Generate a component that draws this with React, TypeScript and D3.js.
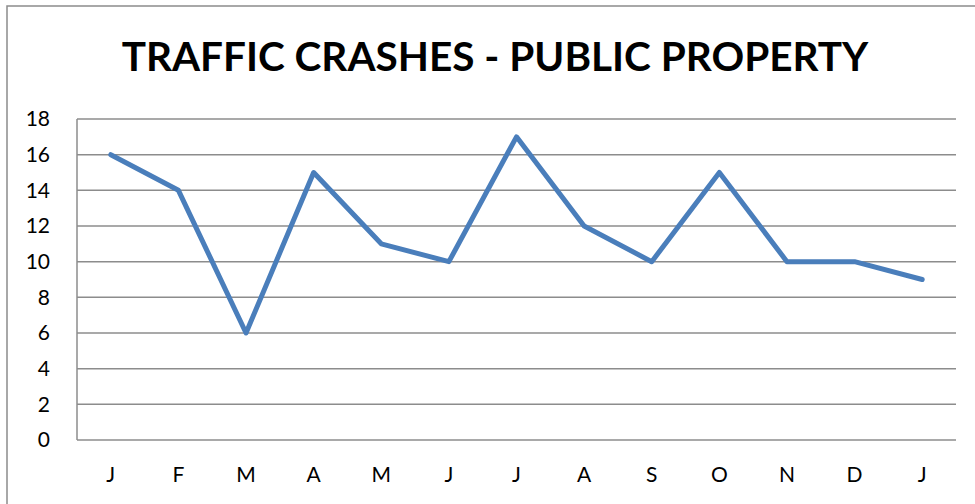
import React, { useEffect, useRef } from 'react';
import * as d3 from 'd3';

const months = ['J', 'F', 'M', 'A', 'M', 'J', 'J', 'A', 'S', 'O', 'N', 'D', 'J'];
const crashes = [16, 14, 6, 15, 11, 10, 17, 12, 10, 15, 10, 10, 9];
const yTicks = [0, 2, 4, 6, 8, 10, 12, 14, 16, 18];
const title = 'TRAFFIC CRASHES - PUBLIC PROPERTY';

function Chart() {
  const canvas = useRef<SVGSVGElement>(null);

  useEffect(() => {
    const width = 975;
    const height = 504;
    const margin = { top: 119, left: 77, bottom: 64, right: 19 };
    const iwidth = width - margin.left - margin.right;
    const iheight = height - margin.top - margin.bottom;
    const font = 'Lato, "Open Sans", sans-serif';

    const svg = d3.select(canvas.current).attr('width', width).attr('height', height);
    svg.selectAll('*').remove();

    svg.append('rect')
      .attr('x', 7).attr('y', 6)
      .attr('width', width).attr('height', height)
      .attr('fill', 'white')
      .attr('stroke', '#8c8c8c')
      .attr('stroke-width', 1.5);

    svg.append('text')
      .attr('x', 495).attr('y', 71)
      .attr('text-anchor', 'middle')
      .attr('font-family', font)
      .attr('font-weight', 'bold')
      .attr('font-size', 40.5)
      .text(title);

    const g = svg.append('g').attr('transform', `translate(${margin.left},${margin.top})`);

    const x = d3.scaleBand<number>()
      .domain(d3.range(months.length))
      .range([0, iwidth]);

    const y = d3.scaleLinear().domain([0, 18]).range([iheight, 0]);

    g.selectAll('line.grid')
      .data(yTicks)
      .enter()
      .append('line')
      .attr('class', 'grid')
      .attr('x1', 0).attr('x2', iwidth)
      .attr('y1', d => y(d)).attr('y2', d => y(d))
      .attr('stroke', '#8c8c8c')
      .attr('stroke-width', 1.5);

    g.append('line')
      .attr('x1', 0).attr('x2', 0)
      .attr('y1', 0).attr('y2', iheight)
      .attr('stroke', '#8c8c8c')
      .attr('stroke-width', 1.5);

    g.selectAll('text.ylab')
      .data(yTicks)
      .enter()
      .append('text')
      .attr('class', 'ylab')
      .attr('x', -27)
      .attr('y', d => y(d))
      .attr('dy', '0.35em')
      .attr('text-anchor', 'end')
      .attr('font-family', font)
      .attr('font-size', 21)
      .text(d => d);

    g.selectAll('text.xlab')
      .data(months)
      .enter()
      .append('text')
      .attr('class', 'xlab')
      .attr('x', (d, i) => (x(i) as number) + x.bandwidth() / 2)
      .attr('y', iheight + 42)
      .attr('text-anchor', 'middle')
      .attr('font-family', font)
      .attr('font-size', 21)
      .text(d => d);

    const line = d3.line<number>()
      .x((d, i) => (x(i) as number) + x.bandwidth() / 2)
      .y(d => y(d));

    g.append('path')
      .datum(crashes)
      .attr('d', line)
      .attr('fill', 'none')
      .attr('stroke', '#4a7ebb')
      .attr('stroke-width', 5)
      .attr('stroke-linejoin', 'round')
      .attr('stroke-linecap', 'round');
  }, []);

  return <svg ref={canvas} style={{ display: 'block', position: 'absolute', left: 0, top: 0 }}></svg>;
}

export default function App() {
  return <Chart />;
}
